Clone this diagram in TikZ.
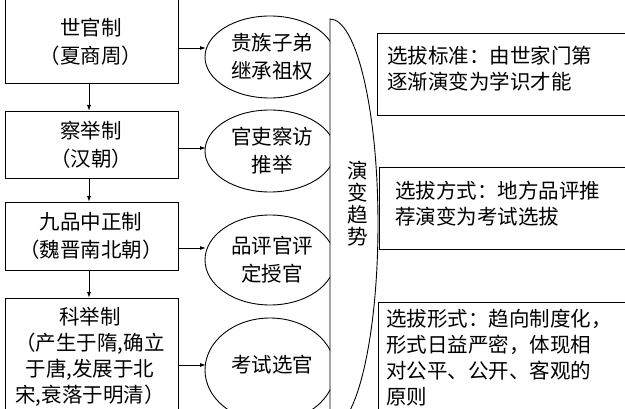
\documentclass[tikz,border=0pt]{standalone}
\usepackage{fontspec}
\setmainfont{Noto Sans CJK SC}
\usetikzlibrary{arrows.meta}
\begin{document}
\begin{tikzpicture}[x=1pt,y=-1pt,line width=0.9pt,
  txt/.style={font=\fontsize{20.5}{28}\selectfont,align=center,inner sep=0},
  rtxt/.style={font=\fontsize{20.5}{26}\selectfont,align=left,anchor=north west,inner sep=0},
  arr/.style={-{Latex[length=6pt,width=4pt]}}]
\useasboundingbox (0,0) rectangle (625,409);
\clip (0,0) rectangle (625,409);
% left boxes
\draw (5,-5) rectangle (178,83);
\node[txt] (b1) at (91,42) {世官制\\（夏商周）};
\draw (5,111) rectangle (178,178);
\node[txt] (b2) at (91,145) {察举制\\（汉朝）};
\draw (5,202) rectangle (178,270);
\node[txt] (b3) at (91,236) {九品中正制\\（魏晋南北朝）};
\node[txt,font=\fontsize{20.5}{26}\selectfont] (b4) at (90,357) {科举制\\（产生于隋,确立\\于唐,发展于北\\宋,衰落于明清）};
\draw (5,298) rectangle (178,420);
\coordinate (d1a) at (89,83); \coordinate (d1b) at (89,111);
\coordinate (d2a) at (89,178); \coordinate (d2b) at (89,202);
\coordinate (d3a) at (89,270); \coordinate (d3b) at (89,298);
\draw[arr] (d1a) -- (d1b);
\draw[arr] (d2a) -- (d2b);
\draw[arr] (d3a) -- (d3b);
% ellipses clipped at x=330
\begin{scope}
\clip (0,0) rectangle (330,420);
\draw (270,57) ellipse [x radius=65,y radius=41];
\draw (270,151) ellipse [x radius=65,y radius=41];
\draw (270,260) ellipse [x radius=65,y radius=45];
\draw (270,370) ellipse [x radius=65,y radius=52];
\end{scope}
\node[txt] (e1) at (272,57) {贵族子弟\\继承祖权};
\node[txt] (e2) at (272,151) {官吏察访\\推举};
\node[txt] (e3) at (272,260) {品评官评\\定授官};
\node[txt] (e4) at (272,365) {考试选官};
\coordinate (a1) at (178,48); \coordinate (a1e) at (206,48);
\coordinate (a2) at (178,148); \coordinate (a2e) at (206,148);
\coordinate (a3) at (178,248); \coordinate (a3e) at (206,248);
\coordinate (a4) at (178,365); \coordinate (a4e) at (206,365);
\draw[arr] (a1) -- (a1e);
\draw[arr] (a2) -- (a2e);
\draw[arr] (a3) -- (a3e);
\draw[arr] (a4) -- (a4e);
% trend shape
\draw (330,430) -- (330,19) arc[start angle=-90,end angle=90,x radius=48,y radius=205];
\node[txt,font=\fontsize{20.5}{22}\selectfont] (t) at (358,204) {演\\变\\趋\\势};
% right boxes
\draw (630,33) -- (377,33) -- (377,115) -- (630,115);
\draw (630,167) -- (379,167) -- (379,249) -- (630,249);
\draw (630,302) -- (378,302) -- (378,420);
\node[rtxt] (r1) at (387,46) {选拔标准：由世家门第\\逐渐演变为学识才能};
\node[rtxt] (r2) at (395,181) {选拔方式：地方品评推\\荐演变为考试选拔};
\node[rtxt] (r3) at (386,309) {选拔形式：趋向制度化，\\形式日益严密，体现相\\对公平、公开、客观的\\原则};
\end{tikzpicture}
\end{document}
